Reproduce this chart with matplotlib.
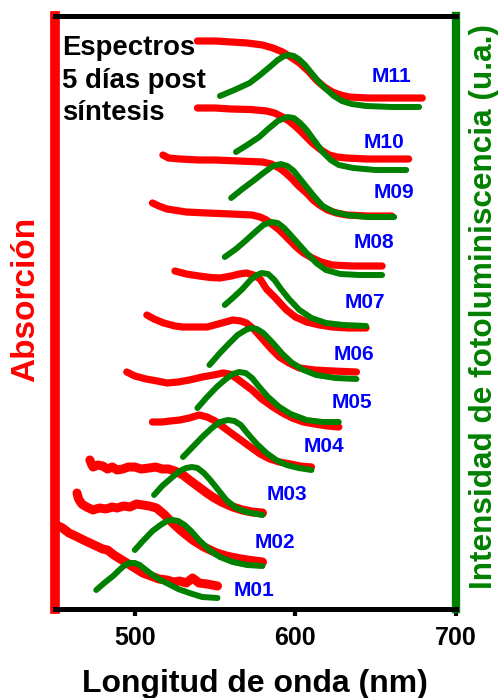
import matplotlib
matplotlib.use('Agg')
import matplotlib.pyplot as plt
from matplotlib.ticker import MultipleLocator

plt.rcParams['font.family'] = ['Liberation Sans', 'DejaVu Sans']
plt.rcParams['font.weight'] = 'bold'

# spectra, already stacked (a.u.)
samples = ['M01', 'M02', 'M03', 'M04', 'M05', 'M06', 'M07', 'M08', 'M09', 'M10', 'M11']

abs_wl = [
	[448, 451, 455, 459, 463, 468, 472, 476, 480, 483, 487, 491, 495, 500, 505, 510, 515, 520, 524, 528, 532, 536, 540, 545, 551.5],
	[464, 465, 467, 470, 474, 478, 482, 486, 489, 493, 497, 501, 505, 509, 513.5, 518, 523.5, 529, 536, 543, 551, 557, 563, 570, 579.5],
	[472, 473, 474, 477, 480, 483, 486, 489, 492.5, 496, 500, 504, 509, 513, 517, 521, 525, 530, 534, 539, 544, 548.5, 554, 561, 567, 573, 579.5],
	[511, 517, 522, 528, 534, 540, 545, 550, 555, 560, 566, 572, 578, 584, 590, 597, 603, 610],
	[495, 500, 507, 514, 520, 527, 534, 542, 549, 555, 559, 563, 568, 573, 579, 586, 592, 598, 605, 612, 620, 627],
	[507.5, 512, 518, 525, 530, 538, 545, 552, 561, 566, 569.5, 574, 579.5, 585, 590, 596, 602.5, 612, 623, 638],
	[525, 532, 540, 547, 553, 560, 565, 569.5, 574, 578, 582, 587, 591, 594.5, 600, 607, 615, 623, 633, 644],
	[511, 515, 520, 532, 545, 560, 573, 578, 582, 586, 590, 595, 600.5, 605, 610.5, 616, 623, 635, 654],
	[517.5, 521, 528, 540, 550, 565, 579.5, 585, 590, 594, 598, 602, 607, 611, 615, 620, 625.5, 632, 645, 660],
	[539, 550, 560, 572, 582, 587, 592, 596, 600.5, 605, 610.5, 616, 621, 626, 631.5, 645, 670.5],
	[539, 550, 560, 570, 579.5, 586, 592, 597, 602.5, 608, 613, 618, 623, 628, 633.5, 645, 660, 679],
]
abs_val = [
	[8.7, 8.4, 8.1, 7.6, 7.3, 6.9, 6.6, 6.3, 6.0, 5.9, 5.4, 5.0, 4.6, 4.1, 3.6, 3.3, 3.0, 2.9, 2.7, 2.8, 2.6, 3.1, 2.6, 2.5, 2.3],
	[11.6, 11.0, 10.5, 10.2, 9.9, 10.1, 10.0, 10.2, 10.1, 10.3, 10.2, 10.5, 10.4, 10.3, 10.1, 9.5, 8.6, 7.8, 6.9, 6.2, 5.6, 5.3, 5.1, 4.9, 4.7],
	[14.9, 14.5, 14.2, 14.4, 14.3, 14.0, 14.2, 13.9, 14.0, 14.2, 14.2, 14.0, 14.1, 14.2, 14.0, 14.0, 13.8, 13.4, 12.9, 12.3, 11.7, 11.2, 10.7, 10.2, 9.9, 9.7, 9.6],
	[18.7, 18.7, 18.8, 18.9, 19.1, 19.4, 19.2, 18.8, 18.2, 17.6, 16.9, 16.2, 15.5, 15.0, 14.7, 14.5, 14.3, 14.2],
	[23.7, 23.3, 23.0, 22.8, 22.6, 22.7, 22.9, 23.2, 23.4, 23.6, 23.5, 23.1, 22.5, 21.9, 21.0, 20.2, 19.6, 19.1, 18.7, 18.5, 18.3, 18.2],
	[29.4, 29.0, 28.6, 28.3, 28.2, 28.2, 28.2, 28.5, 28.9, 28.8, 28.6, 28.0, 27.0, 26.0, 25.2, 24.6, 24.1, 23.9, 23.8, 23.7],
	[33.8, 33.5, 33.3, 33.15, 33.1, 33.3, 33.5, 33.6, 33.4, 33.0, 32.0, 31.2, 30.5, 29.9, 29.2, 28.7, 28.4, 28.2, 28.1, 28.1],
	[40.6, 40.3, 40.0, 39.7, 39.6, 39.5, 39.4, 39.2, 38.9, 38.4, 37.9, 37.1, 36.2, 35.6, 35.1, 34.7, 34.4, 34.3, 34.3],
	[45.4, 45.1, 45.0, 44.9, 44.9, 44.8, 44.7, 44.5, 44.1, 43.6, 43.0, 42.3, 41.6, 40.9, 40.4, 39.9, 39.6, 39.4, 39.3, 39.3],
	[50.1, 50.1, 50.0, 49.95, 49.8, 49.6, 49.2, 48.8, 48.2, 47.5, 46.6, 45.9, 45.4, 45.2, 45.1, 45.0, 45.0],
	[56.8, 56.8, 56.7, 56.6, 56.4, 56.1, 55.7, 55.2, 54.6, 53.8, 52.9, 52.2, 51.7, 51.4, 51.2, 51.1, 51.1, 51.1],
]

pl_wl = [
	[476, 481, 486.5, 491, 494, 497, 500, 503, 507, 511, 516, 521, 527, 534, 542, 551.5],
	[500, 505, 511, 516, 520, 523.5, 527, 531, 535, 540, 546.5, 553, 561, 570, 579.5],
	[512, 517, 523.5, 528, 532, 535.5, 539, 543, 547, 552, 557, 563, 569.5, 579.5],
	[530, 536, 542, 548, 553, 558, 562, 566, 570, 576, 582, 588, 594.5, 602, 610],
	[539, 545, 551, 556, 561, 565, 569, 573, 577.5, 583, 590, 597, 607, 617, 627],
	[546.5, 553, 559, 564, 569, 572.5, 576, 580, 586, 592, 598, 605, 613, 625, 638],
	[556, 561, 567, 572, 576, 579, 583, 587, 591, 596, 602.5, 610, 619, 630, 644],
	[556, 563, 569.5, 575, 580, 585, 589, 593, 597, 602, 607, 613, 619, 628, 640, 654],
	[560, 567, 574.5, 580, 586, 591, 595, 599, 603, 607, 612, 617, 624, 632, 645, 661.5],
	[563, 570, 577.5, 583, 589, 595, 599, 603, 607, 612, 617, 622, 627, 636, 650, 669],
	[553, 562, 571.5, 578, 584, 589, 593, 596, 599, 602, 606, 610, 614, 619, 624, 629, 635, 644, 660, 677],
]
pl_val = [
	[1.9, 2.6, 3.3, 4.0, 4.4, 4.6, 4.6, 4.4, 3.9, 3.4, 2.9, 2.5, 2.0, 1.6, 1.2, 1.1],
	[5.9, 6.8, 7.8, 8.4, 8.8, 8.9, 8.8, 8.4, 7.8, 6.9, 5.9, 5.2, 4.7, 4.4, 4.3],
	[11.4, 12.3, 13.2, 13.8, 14.1, 14.2, 14.1, 13.6, 12.9, 11.9, 10.9, 10.1, 9.7, 9.4],
	[15.2, 16.2, 17.2, 18.1, 18.7, 18.9, 18.8, 18.4, 17.6, 16.5, 15.6, 14.9, 14.4, 14.1, 13.9],
	[20.1, 21.2, 22.2, 22.9, 23.5, 23.7, 23.6, 23.1, 22.2, 21.2, 20.2, 19.5, 18.9, 18.7, 18.7],
	[24.4, 25.6, 26.6, 27.4, 27.9, 28.1, 28.0, 27.6, 26.6, 25.5, 24.6, 23.9, 23.4, 23.1, 23.0],
	[30.4, 31.1, 32.0, 32.9, 33.4, 33.6, 33.5, 32.9, 32.0, 31.0, 29.9, 29.1, 28.6, 28.4, 28.3],
	[35.2, 36.0, 36.9, 37.7, 38.4, 38.7, 38.6, 38.1, 37.4, 36.5, 35.6, 34.6, 33.9, 33.5, 33.4, 33.4],
	[41.1, 42.0, 42.9, 43.6, 44.3, 44.5, 44.3, 43.8, 43.0, 42.2, 41.2, 40.3, 39.7, 39.4, 39.2, 39.2],
	[45.7, 46.4, 47.2, 48.0, 48.8, 49.2, 49.1, 48.6, 47.9, 46.8, 45.7, 44.9, 44.4, 44.1, 43.9, 43.9],
	[51.3, 51.9, 52.6, 53.4, 54.2, 54.9, 55.3, 55.4, 55.3, 55.0, 54.4, 53.6, 52.8, 52.0, 51.3, 50.8, 50.5, 50.3, 50.2, 50.2],
]

label_x = [574.5, 587, 595, 618, 635, 636.5, 643, 649, 661.5, 655, 660]
label_y = [1.8, 6.6, 11.4, 16.3, 20.7, 25.5, 30.6, 36.7, 41.6, 46.7, 53.2]

red = '#FF0000'
green = '#008000'

fig = plt.figure(figsize=(4.99, 6.98), dpi=100)
ax = fig.add_axes([54.5 / 499, 1 - 609 / 698, 401.5 / 499, 593.5 / 698])

for i in range(len(samples)):
	# the first three absorption spectra are noisier -> look thicker
	lw_abs = 6.5 if i < 3 else 5.2
	ax.plot(abs_wl[i], abs_val[i], color=red, lw=lw_abs, solid_capstyle='round', solid_joinstyle='round')
	ax.plot(pl_wl[i], pl_val[i], color=green, lw=4.3, solid_capstyle='round', solid_joinstyle='round')
	ax.text(label_x[i], label_y[i], samples[i], color='#0000FF', fontsize=15,
		ha='center', va='center')

ax.text(454.7, 55.4, 'Espectros', fontsize=19.8, va='baseline', ha='left')
ax.text(454.7, 52.1, '5 días post', fontsize=19.8, va='baseline', ha='left')
ax.text(454.7, 48.9, 'síntesis', fontsize=19.8, va='baseline', ha='left')

ax.set_xlim(450, 700)
ax.set_ylim(0, 59.35)
ax.set_yticks([])
ax.xaxis.set_major_locator(MultipleLocator(100))
ax.xaxis.set_minor_locator(MultipleLocator(50))
ax.tick_params(axis='x', which='major', length=5, width=3, labelsize=18, pad=7)
ax.tick_params(axis='x', which='minor', length=2.5, width=3)

ax.spines['left'].set_color(red)
ax.spines['left'].set_linewidth(7)
ax.spines['right'].set_color(green)
ax.spines['right'].set_linewidth(6)
ax.spines['top'].set_linewidth(3.6)
ax.spines['bottom'].set_linewidth(3.6)

ax.set_xlabel('Longitud de onda (nm)', fontsize=23, fontweight='bold', labelpad=14)
ax.text(-0.073, 0.521, 'Absorción', transform=ax.transAxes, rotation=90,
	fontsize=24, fontweight='bold', color=red, ha='center', va='center')
ax.text(1.07, 0.509, 'Intensidad de fotoluminiscencia (u.a.)', transform=ax.transAxes,
	rotation=90, fontsize=22.7, fontweight='bold', color=green, ha='center', va='center')

fig.savefig('out.png', dpi=100)
